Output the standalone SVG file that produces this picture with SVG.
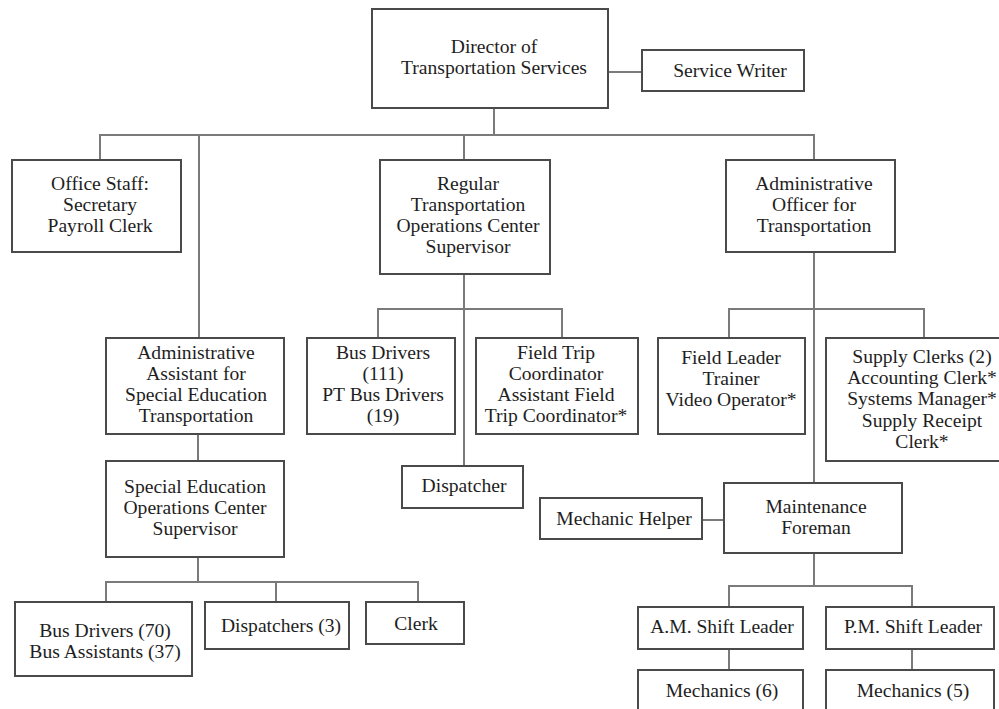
<svg xmlns="http://www.w3.org/2000/svg" width="999" height="709" viewBox="0 0 999 709">
  <style>
    .box { fill: #ffffff; stroke: #4a4a4a; stroke-width: 2; }
    .lbl { font-family: "Liberation Serif", "Times New Roman", serif; font-size: 19.6px; fill: #1e1e1e; text-anchor: middle; }
    .wire { fill: none; stroke: #7a7a7a; stroke-width: 2; }
  </style>
  <rect width="999" height="709" fill="#ffffff"/>

  <!-- reporting lines -->
  <g id="connectors">
    <path class="wire" d="M608,72 H642"/>
    <path class="wire" d="M494,108 V135"/>
    <path class="wire" d="M100,160 V135 H814 V160"/>
    <path class="wire" d="M199,135 V338"/>
    <path class="wire" d="M464,135 V160"/>
    <path class="wire" d="M464,274 V466"/>
    <path class="wire" d="M378,338 V309 H562 V338"/>
    <path class="wire" d="M814,252 V483"/>
    <path class="wire" d="M729,338 V309 H924 V338"/>
    <path class="wire" d="M198,434 V461"/>
    <path class="wire" d="M198,557 V582"/>
    <path class="wire" d="M106,602 V582 H418 V602"/>
    <path class="wire" d="M276,582 V602"/>
    <path class="wire" d="M702,520 H724"/>
    <path class="wire" d="M814,553 V586"/>
    <path class="wire" d="M729,607 V586 H912 V607"/>
    <path class="wire" d="M729,649 V670"/>
    <path class="wire" d="M912,649 V670"/>
  </g>

  <g id="director">
    <rect class="box" x="372" y="9" width="236" height="99"/>
    <text class="lbl" x="494" y="53">Director of</text>
    <text class="lbl" x="494" y="74">Transportation Services</text>
  </g>

  <g id="service-writer">
    <rect class="box" x="642" y="50" width="162" height="41"/>
    <text class="lbl" x="730" y="77">Service Writer</text>
  </g>

  <g id="office-staff">
    <rect class="box" x="12" y="160" width="169" height="92"/>
    <text class="lbl" x="100" y="190">Office Staff:</text>
    <text class="lbl" x="100" y="211">Secretary</text>
    <text class="lbl" x="100" y="232">Payroll Clerk</text>
  </g>

  <g id="regular-ops-supervisor">
    <rect class="box" x="380" y="160" width="170" height="114"/>
    <text class="lbl" x="468" y="190">Regular</text>
    <text class="lbl" x="468" y="211">Transportation</text>
    <text class="lbl" x="468" y="232">Operations Center</text>
    <text class="lbl" x="468" y="253">Supervisor</text>
  </g>

  <g id="admin-officer">
    <rect class="box" x="726" y="160" width="169" height="92"/>
    <text class="lbl" x="814" y="190">Administrative</text>
    <text class="lbl" x="814" y="211">Officer for</text>
    <text class="lbl" x="814" y="232">Transportation</text>
  </g>

  <g id="admin-assistant">
    <rect class="box" x="106" y="338" width="178" height="96"/>
    <text class="lbl" x="196" y="359">Administrative</text>
    <text class="lbl" x="196" y="380">Assistant for</text>
    <text class="lbl" x="196" y="401">Special Education</text>
    <text class="lbl" x="196" y="422">Transportation</text>
  </g>

  <g id="bus-drivers">
    <rect class="box" x="307" y="338" width="148" height="96"/>
    <text class="lbl" x="383" y="359">Bus Drivers</text>
    <text class="lbl" x="383" y="380">(111)</text>
    <text class="lbl" x="383" y="401">PT Bus Drivers</text>
    <text class="lbl" x="383" y="422">(19)</text>
  </g>

  <g id="field-trip">
    <rect class="box" x="476" y="338" width="162" height="96"/>
    <text class="lbl" x="556" y="359">Field Trip</text>
    <text class="lbl" x="556" y="380">Coordinator</text>
    <text class="lbl" x="556" y="401">Assistant Field</text>
    <text class="lbl" x="556" y="422">Trip Coordinator*</text>
  </g>

  <g id="dispatcher">
    <rect class="box" x="402" y="466" width="121" height="42"/>
    <text class="lbl" x="464" y="492">Dispatcher</text>
  </g>

  <g id="field-leader">
    <rect class="box" x="658" y="338" width="147" height="96"/>
    <text class="lbl" x="731" y="364">Field Leader</text>
    <text class="lbl" x="731" y="385">Trainer</text>
    <text class="lbl" x="731" y="406">Video Operator*</text>
  </g>

  <g id="supply">
    <rect class="box" x="826" y="338" width="190" height="123"/>
    <text class="lbl" x="922" y="363">Supply Clerks (2)</text>
    <text class="lbl" x="922" y="384">Accounting Clerk*</text>
    <text class="lbl" x="922" y="405">Systems Manager*</text>
    <text class="lbl" x="922" y="427">Supply Receipt</text>
    <text class="lbl" x="922" y="448">Clerk*</text>
  </g>

  <g id="se-ops-supervisor">
    <rect class="box" x="106" y="461" width="178" height="96"/>
    <text class="lbl" x="195" y="493">Special Education</text>
    <text class="lbl" x="195" y="514">Operations Center</text>
    <text class="lbl" x="195" y="535">Supervisor</text>
  </g>

  <g id="mechanic-helper">
    <rect class="box" x="540" y="498" width="162" height="41"/>
    <text class="lbl" x="624" y="525">Mechanic Helper</text>
  </g>

  <g id="maintenance-foreman">
    <rect class="box" x="724" y="483" width="178" height="70"/>
    <text class="lbl" x="816" y="513">Maintenance</text>
    <text class="lbl" x="816" y="534">Foreman</text>
  </g>

  <g id="se-bus-drivers">
    <rect class="box" x="15" y="602" width="177" height="74"/>
    <text class="lbl" x="105" y="637">Bus Drivers (70)</text>
    <text class="lbl" x="105" y="658">Bus Assistants (37)</text>
  </g>

  <g id="se-dispatchers">
    <rect class="box" x="205" y="602" width="144" height="47"/>
    <text class="lbl" x="281" y="632">Dispatchers (3)</text>
  </g>

  <g id="se-clerk">
    <rect class="box" x="366" y="602" width="98" height="42"/>
    <text class="lbl" x="416" y="630">Clerk</text>
  </g>

  <g id="am-shift-leader">
    <rect class="box" x="638" y="607" width="165" height="42"/>
    <text class="lbl" x="722" y="633">A.M. Shift Leader</text>
  </g>

  <g id="pm-shift-leader">
    <rect class="box" x="826" y="607" width="168" height="42"/>
    <text class="lbl" x="913" y="633">P.M. Shift Leader</text>
  </g>

  <g id="am-mechanics">
    <rect class="box" x="638" y="670" width="165" height="50"/>
    <text class="lbl" x="722" y="697">Mechanics (6)</text>
  </g>

  <g id="pm-mechanics">
    <rect class="box" x="826" y="670" width="168" height="50"/>
    <text class="lbl" x="913" y="697">Mechanics (5)</text>
  </g>
</svg>
